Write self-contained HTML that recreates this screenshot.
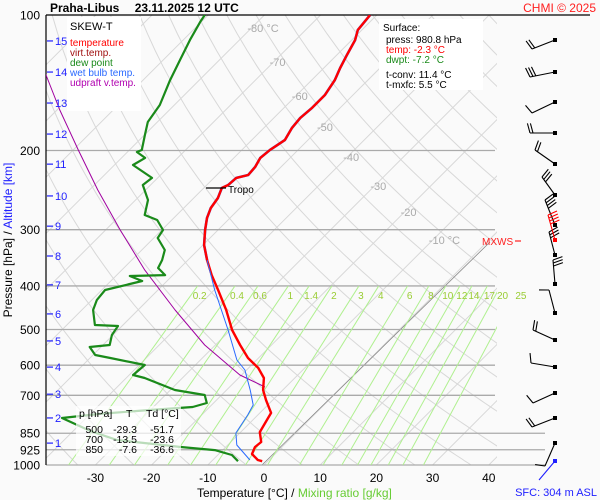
<!DOCTYPE html>
<html><head><meta charset="utf-8"><style>
html,body{margin:0;padding:0;background:#fafafa;}
svg{display:block;font-family:"Liberation Sans",sans-serif;}
</style></head><body>
<svg id="c" width="600" height="500" viewBox="0 0 600 500">
<defs><clipPath id="plot"><rect x="46" y="15" width="451" height="450"/></clipPath></defs>
<rect x="0" y="0" width="600" height="500" fill="#fafafa"/>
<g id="grid" clip-path="url(#plot)"></g>
<g id="isobars"></g>
<g id="mix"></g>
<g id="series"></g>
<g id="barbs"></g>
<g id="labels"></g>
</svg>
<script>
const isoPress=[200,300,400,500,600,700,850,925,1000];
const pressLabels=[100,200,300,400,500,600,700,850,925,1000];
const xTicks=[-30,-20,-10,0,10,20,30,40];
const isoLabelT=[-80,-70,-60,-50,-40,-30,-20,-10];
const mixRatios=[0.2,0.4,0.6,1,1.4,2,3,4,6,8,10,12,14,17,20,25];
const altKm=[1,2,3,4,5,6,7,8,9,10,11,12,13,14,15];
const altPress=[894,786,696,606,530,461.6,397.8,343.2,294.6,252.4,214.5,183.9,156.9,133.9,114.2];
const tempP=[100,108,113.7,122.7,131.1,139.5,150.6,160.9,169.4,178.3,189.6,199.5,207.8,217.6,226.8,230.2,238.6,242.3,255.1,268.5,282.5,300.4,324.4,350.4,378.4,408.5,452.4,501.2,541.2,578.3,608.6,640.8,681.3,717.1,766.1,794.3,845,888.9,912,945.3,974.7,980.8];
const tempT=[-61.2,-60.7,-59.4,-58.2,-57.1,-55.9,-55,-55,-55.3,-55,-54.1,-55,-55.3,-54.6,-54.4,-56,-56.2,-56.8,-55.7,-55.2,-54.1,-52.3,-49.8,-46.6,-43.1,-39.3,-34.3,-29.7,-25.6,-21.9,-18.3,-15.5,-13.5,-11.2,-8,-7.5,-6.6,-4.6,-4.8,-4.1,-2.0,-1.0];
const dewP=[100,103.6,113.7,125.9,139.5,158.5,172.9,184.8,199.5,201.6,207.8,215.4,230.2,238.6,257.7,278.3,285.4,300.4,313,332.9,350.4,365,378.4,380.2,390.1,408.5,430,452.4,488.6,491.1,514.2,541.2,546.8,569.6,578.3,599.5,631,640.8,681.3,699,728.2,743.2,754.6,770,786.3,840,880,912,926.7,950,980.8];
const dewT=[-90.6,-90.2,-88.8,-87,-85.2,-82.6,-81.7,-79.9,-77.8,-78.3,-75.8,-76.7,-71,-71.4,-67.8,-65.7,-62.6,-59.8,-59.3,-55.9,-54.6,-53.9,-51.4,-57.5,-54.4,-59.4,-59.1,-58,-55,-50.7,-50.2,-48.8,-52,-49.6,-46.4,-39,-39.3,-36.7,-29.2,-23,-21.2,-23,-30.1,-38.3,-44.3,-37,-30.6,-18,-11.4,-7.5,-5.3];
const wetP=[350.4,408.5,501.2,584.3,615,681.3,735.6,774.3,849,902.9,974.7];
const wetT=[-46.6,-39.9,-30.4,-23.5,-20.3,-15.8,-12.6,-11.8,-10.7,-8.4,-3.4];
const parcelP=[122.7,135.9,162.6,199.5,244.9,300.4,368.8,452.4,541.2,631,670.9];
const parcelT=[-113.2,-108.2,-99.5,-89.1,-78.5,-67.4,-55.9,-43.4,-31.9,-20.3,-13.7];
const windY=[40,72,102,133,164,195,225,255,284,313,340,367,393,418,443];
const windDx=[-23,-25,-23,-25,-20,-13,-10,-6,-2,-6,-22,-24,-22,-23,-10];
const windDy=[9,5,11,0,-14,-18,-25,-23,-24,-23,-10,-4,10,9,23];
const windN=[2,3,1,2,2,3,4,3,3,1,2,1,1,2,1];
const windSide=[1,1,1,1,1,1,1,1,1,-1,1,1,1,1,1];

const NS='http://www.w3.org/2000/svg';
const Y=p=>15+450*Math.log10(p/100);
const X=(T,p)=>264+5.62*T+(465-Y(p));
function mk(tag,attrs,parent){const e=document.createElementNS(NS,tag);for(const k in attrs)e.setAttribute(k,attrs[k]);parent.appendChild(e);return e;}
const G=id=>document.getElementById(id);

for(let T=-130;T<=40;T+=10){
  const l=mk('line',{x1:X(T,1000),y1:Y(1000),x2:X(T,100),y2:Y(100),stroke:'#d8d8d8','stroke-width':1},G('grid'));
  
  
}
for(let th=230;th<=500;th+=10){
  let d='';
  for(let p=100;p<=1000;p+=10){const T=th*Math.pow(p/1000,0.2857)-273.15;d+=(p===100?'M':'L')+X(T,p).toFixed(1)+' '+Y(p).toFixed(1);}
  const a=mk('path',{d:d,fill:'none',stroke:'#d8d8d8','stroke-width':1},G('grid'));
  
  
}
const rl=mk('line',{x1:262,y1:465,x2:490,y2:242,stroke:'#888','stroke-width':0.8},G('grid'));



function tdFromW(w,p){const e=w*p/(622+w);const l=Math.log(e/6.112);return 243.5*l/(17.67-l);}
const mixG=mk('g',{'clip-path':'url(#plot)'},G('mix'));
mixRatios.forEach(w=>{
  const l=mk('line',{x1:X(tdFromW(w,1000),1000),y1:Y(1000),x2:X(tdFromW(w,400),400),y2:Y(400),stroke:'#b0f090','stroke-width':1},mixG);
  
  
  const t=mk('text',{x:X(tdFromW(w,400),400)+2,y:299,'font-size':10,fill:'#99cc33','text-anchor':'middle'},G('mix'));
  t.textContent=String(w);
  
  
});

isoPress.forEach(p=>{
  const l=mk('line',{x1:46,y1:Y(p),x2:p>=850?545:495,y2:Y(p),stroke:'#aaa','stroke-width':1.3},G('isobars'));
  
  
});
mk('line',{x1:46,y1:15,x2:590,y2:15,stroke:'#000','stroke-width':1.2},G('isobars'));
mk('line',{x1:46,y1:15,x2:46,y2:465,stroke:'#000','stroke-width':1.2},G('isobars'));

function poly(P,T,color,w,name){
  let d='';P.forEach((p,i)=>{d+=(i?'L':'M')+X(T[i],p).toFixed(1)+' '+Y(p).toFixed(1);});
  const e=mk('path',{d:d,fill:'none',stroke:color,'stroke-width':w,'stroke-linejoin':'round','clip-path':'url(#plot)'},G('series'));
  
  
}
poly(parcelP,parcelT,'#a000a0',1,'updraft-virtual-temp-line');
poly(dewP,dewT,'#1a8a1a',2.2,'dew-point-line');
poly(tempP.filter(p=>p<=350.4),tempT.filter((t,i)=>tempP[i]<=350.4),'#2a6aff',2.6,'wet-bulb-upper-line');
poly(tempP,tempT,'#ff0000',2.4,'temperature-line');
poly(wetP,wetT,'#2a6aff',1,'wet-bulb-line');

const tp=mk('line',{x1:206,y1:188,x2:226,y2:188,stroke:'#000','stroke-width':1.2},G('labels'));



windY.forEach((y,i)=>{
  const x0=555,x1=x0+windDx[i],y1=y+windDy[i];
  const L=Math.hypot(windDx[i],windDy[i]);const ux=windDx[i]/L,uy=windDy[i]/L;
  const a=Math.atan2(uy,ux)+windSide[i]*75*Math.PI/180;
  const g=mk('g',{stroke:'#000','stroke-width':1.1,fill:'none'},G('barbs'));
  
  
  mk('line',{x1:x0,y1:y,x2:x1,y2:y1},g);
  for(let k=0;k<windN[i];k++){
    const bx=x1-ux*3*k,by=y1-uy*3*k;
    mk('line',{x1:bx,y1:by,x2:bx+10*Math.cos(a),y2:by+10*Math.sin(a)},g);
  }
  mk('rect',{x:x0-2,y:y-2,width:4,height:4,fill:'#000',stroke:'none'},g);
});
(function(){
  const g=mk('g',{stroke:'#ff0000','stroke-width':1.1},G('barbs'));
  
  
  mk('line',{x1:555,y1:240,x2:548,y2:215},g);
  for(let k=0;k<4;k++)mk('line',{x1:548+0.8*k,y1:215+3*k,x2:557+0.8*k,y2:211+3*k},g);
  mk('rect',{x:553,y:238,width:4,height:4,fill:'#ff0000',stroke:'none'},g);
})();
const sfc=mk('g',{},G('barbs'));


mk('line',{x1:555,y1:461,x2:539,y2:480,stroke:'#2020ff','stroke-width':1.1},sfc);
mk('rect',{x:553,y:459,width:4,height:4,fill:'#2020ff'},sfc);

pressLabels.forEach(p=>{
  const t=mk('text',{x:40,y:Y(p)+4.5,'font-size':12,'text-anchor':'end',fill:'#000'},G('labels'));
  t.textContent=String(p);
  
  
});
xTicks.forEach(T=>{
  const t=mk('text',{x:X(T,1000),y:482,'font-size':12,'text-anchor':'middle',fill:'#000'},G('labels'));
  t.textContent=String(T);
  
  
});
isoLabelT.forEach((T,i)=>{
  const yy=[28,62,96,127,157,186,212,240][i];
  const t=mk('text',{x:264+5.62*T+(465-yy)-4,y:yy+4,'font-size':11,fill:'#aaa','text-anchor':'start'},G('labels'));
  t.textContent=String(T)+((i===0||i===7)?' °C':'');
  
  
});
altKm.forEach((k,i)=>{
  const y=Y(altPress[i]);
  const l=mk('line',{x1:47,y1:y,x2:53,y2:y,stroke:'#2020ff','stroke-width':1.2},G('labels'));
  
  
  const t=mk('text',{x:55,y:y+4,'font-size':11,fill:'#2020ff'},G('labels'));
  t.textContent=String(k);
  
  
});
</script>
<svg style="position:absolute;left:0;top:0" width="600" height="500">
<text x="50" y="12" font-size="12" font-weight="bold" fill="#000">Praha-Libus <tspan dx="12">23.11.2025 12 UTC</tspan></text>
<text x="596" y="12" font-size="12" fill="#ff2020" text-anchor="end">CHMI © 2025</text>
<g>
<rect x="67" y="17" width="74" height="94" fill="#fff"/>
<text x="70" y="30" font-size="11" fill="#000">SKEW-T</text>
<text x="70" y="46" font-size="10" fill="#ff0000">temperature</text>
<text x="70" y="56" font-size="10" fill="#a01010">virt.temp.</text>
<text x="70" y="66" font-size="10" fill="#1a8a1a">dew point</text>
<text x="70" y="76" font-size="10" fill="#2a6aff">wet bulb temp.</text>
<text x="70" y="86" font-size="10" fill="#b000b0">udpraft v.temp.</text>
</g>
<g>
<rect x="379" y="19" width="104" height="71" fill="#fff"/>
<text x="383" y="31" font-size="10" fill="#000">Surface:</text>
<text x="386" y="43" font-size="10" fill="#000">press: 980.8 hPa</text>
<text x="386" y="53" font-size="10" fill="#ff0000">temp: -2.3 °C</text>
<text x="386" y="63" font-size="10" fill="#1a8a1a">dwpt: -7.2 °C</text>
<text x="386" y="78" font-size="10" fill="#000">t-conv: 11.4 °C</text>
<text x="386" y="88" font-size="10" fill="#000">t-mxfc: 5.5 °C</text>
</g>
<g>
<rect x="76" y="406" width="105" height="50" fill="#fff" fill-opacity="0.7"/>
<text x="79" y="417" font-size="10.5" fill="#000">p [hPa]</text>
<text x="126" y="417" font-size="10.5" fill="#000">T</text>
<text x="146" y="417" font-size="10.5" fill="#000">Td [°C]</text>
<g font-size="10.5" fill="#000" text-anchor="end">
<text x="103" y="433">500</text><text x="137" y="433">-29.3</text><text x="174" y="433">-51.7</text>
<text x="103" y="443">700</text><text x="137" y="443">-13.5</text><text x="174" y="443">-23.6</text>
<text x="103" y="453">850</text><text x="137" y="453">-7.6</text><text x="174" y="453">-36.6</text>
</g>
</g>
<text x="228" y="193" font-size="10" fill="#000">Tropo</text>
<text x="482" y="245" font-size="10" fill="#ff2020">MXWS</text>
<line x1="515" y1="241" x2="521" y2="241" stroke="#ff2020" stroke-width="1.2"/>
<text x="197" y="497" font-size="12" fill="#000">Temperature [°C]  /  <tspan fill="#66cc33">Mixing ratio [g/kg]</tspan></text>
<text x="597" y="496" font-size="11" fill="#2020ff" text-anchor="end">SFC: 304 m ASL</text>
<text transform="translate(12,240) rotate(-90)" font-size="12" text-anchor="middle" fill="#000">Pressure [hPa]  /  <tspan fill="#2020ff">Altitude [km]</tspan></text>
</svg>
</body></html>
